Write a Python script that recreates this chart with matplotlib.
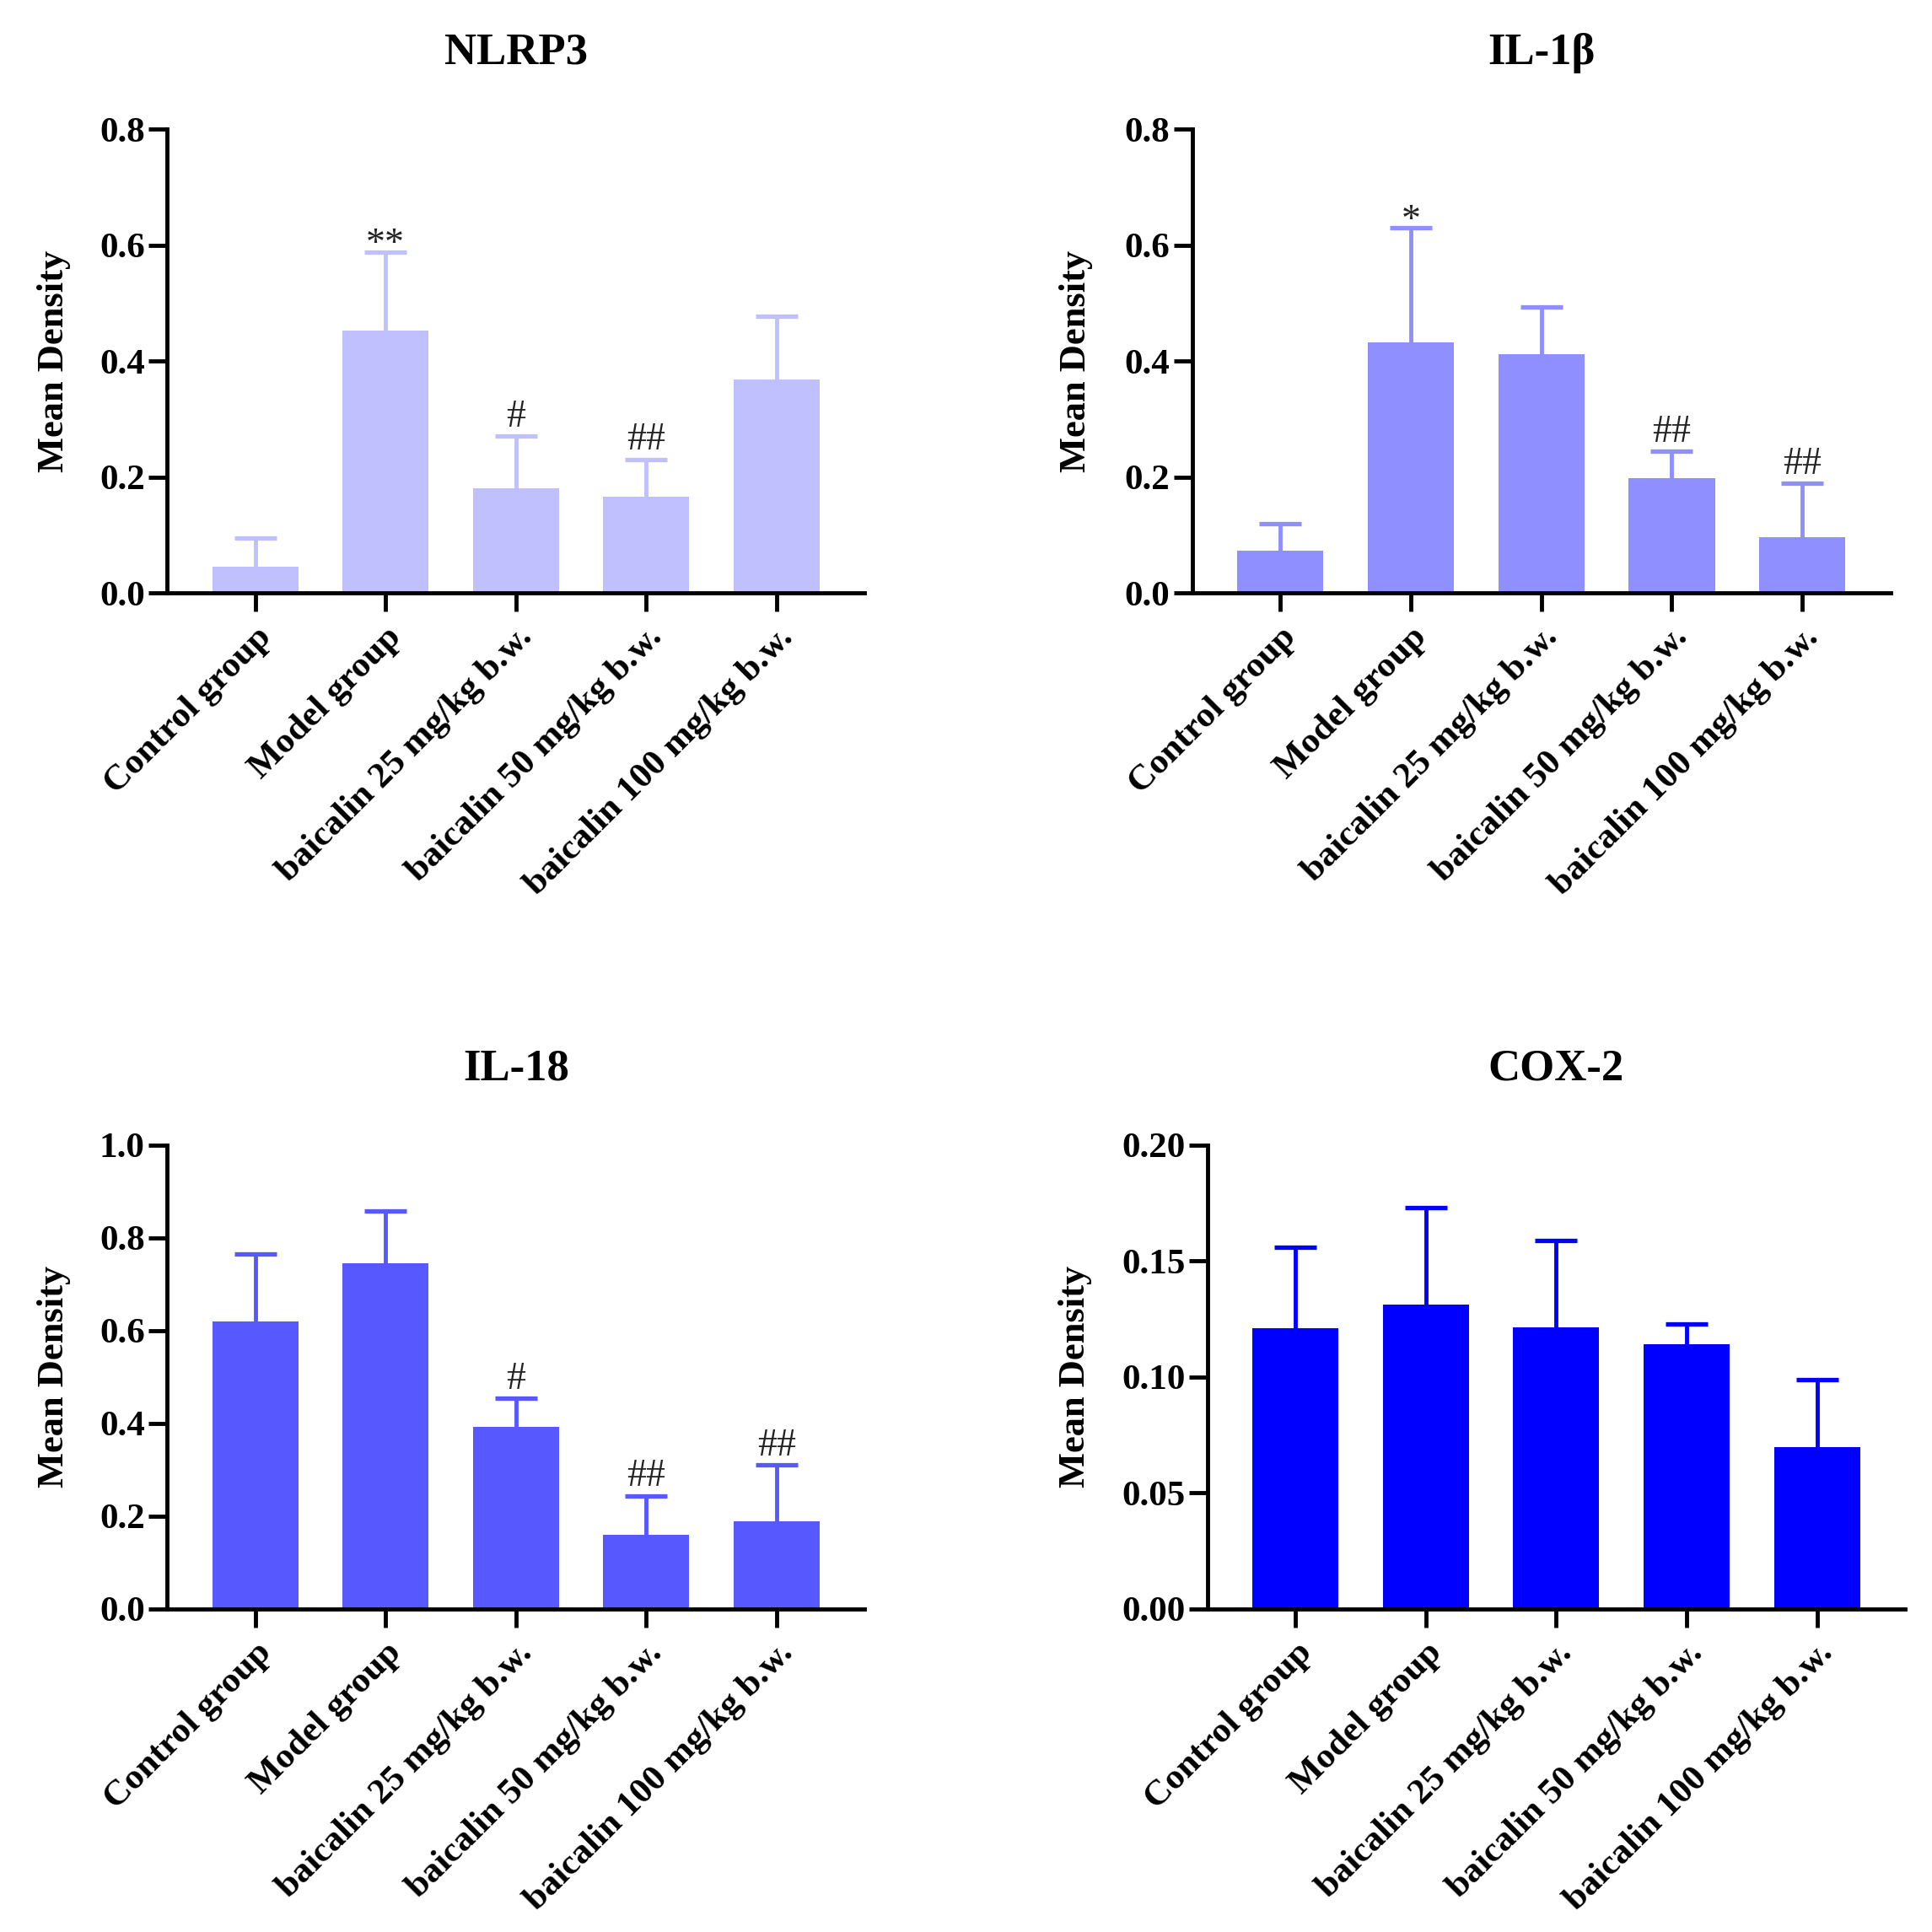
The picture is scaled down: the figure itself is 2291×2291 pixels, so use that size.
import numpy as np
import matplotlib
matplotlib.use("Agg")
import matplotlib.pyplot as plt
from matplotlib.ticker import MultipleLocator, FormatStrFormatter

plt.rcParams['font.family'] = ['Liberation Serif', 'DejaVu Serif']

# data
groups = ["Control group", "Model group", "baicalin 25 mg/kg b.w.",
          "baicalin 50 mg/kg b.w.", "baicalin 100 mg/kg b.w."]

nlrp3_mean = [0.046, 0.453, 0.181, 0.167, 0.368]
nlrp3_top = [0.095, 0.589, 0.271, 0.231, 0.478]
nlrp3_marks = ["", "**", "#", "##", ""]

il1b_mean = [0.073, 0.433, 0.412, 0.198, 0.096]
il1b_top = [0.120, 0.630, 0.493, 0.245, 0.189]
il1b_marks = ["", "*", "", "##", "##"]

il18_mean = [0.620, 0.745, 0.392, 0.159, 0.189]
il18_top = [0.766, 0.858, 0.454, 0.244, 0.310]
il18_marks = ["", "", "#", "##", "##"]

cox2_mean = [0.121, 0.1313, 0.1214, 0.1142, 0.0697]
cox2_top = [0.156, 0.173, 0.159, 0.1227, 0.099]
cox2_marks = ["", "", "", "", ""]

panels = [
    # title, mean, top, marks, color, ymax, step, fmt, axes rect, ylabel x
    ("NLRP3", nlrp3_mean, nlrp3_top, nlrp3_marks, "#C0C0FF", 0.8, 0.2, "%.1f",
     [0.0865, 0.693, 0.361, 0.240], -0.138),
    ("IL-1β", il1b_mean, il1b_top, il1b_marks, "#8F8FFF", 0.8, 0.2, "%.1f",
     [0.617, 0.693, 0.3615, 0.240], -0.142),
    ("IL-18", il18_mean, il18_top, il18_marks, "#5858FF", 1.0, 0.2, "%.1f",
     [0.0865, 0.1673, 0.361, 0.240], -0.138),
    ("COX-2", cox2_mean, cox2_top, cox2_marks, "#0000FF", 0.20, 0.05, "%.2f",
     [0.625, 0.1673, 0.361, 0.240], -0.165),
]

fig = plt.figure(figsize=(22.91, 22.91), dpi=100)

for title, mean, top, marks, color, ymax, step, fmt, rect, ylab_x in panels:
    ax = fig.add_axes(rect)
    x = np.arange(len(groups))
    mean = np.array(mean)
    err = np.array(top) - mean
    ax.bar(x, mean, width=0.66, color=color, zorder=2)
    # upper error only; hide the lower caps that sit on the bar tops
    _, caps, _ = ax.errorbar(x, mean, yerr=[np.zeros_like(err), err], fmt='none',
                             ecolor=color, elinewidth=3.5, capsize=18,
                             capthick=3.8, zorder=1)
    for c in caps:
        if np.allclose(c.get_ydata(), mean):
            c.set_visible(False)

    for xi, t, m in zip(x, top, marks):
        if m:
            dy = -2.5 if m.startswith('*') else 8
            ax.annotate(m, (xi, t), xytext=(0, dy), textcoords='offset points',
                        ha='center', va='baseline', fontsize=33, color='#222222')

    ax.set_xlim(-0.675, 4.675)
    ax.set_ylim(0, ymax)
    ax.yaxis.set_major_locator(MultipleLocator(step))
    ax.yaxis.set_major_formatter(FormatStrFormatter(fmt))

    for s in ['top', 'right']:
        ax.spines[s].set_visible(False)
    for s in ['left', 'bottom']:
        ax.spines[s].set_linewidth(3.5)

    ax.tick_params(axis='both', direction='out', length=16, width=3.5,
                   labelsize=31)
    ax.tick_params(axis='y', pad=3)
    ax.tick_params(axis='x', pad=8)
    ax.set_xticks(x)
    ax.set_xticklabels(groups, rotation=45, ha='right', va='top',
                       rotation_mode='anchor', fontweight='bold')
    for lab in ax.get_yticklabels():
        lab.set_fontweight('bold')

    ax.set_ylabel("Mean Density", fontsize=32, fontweight='bold')
    ax.yaxis.set_label_coords(ylab_x, 0.5)
    ax.set_title(title, fontsize=38, fontweight='bold', pad=56)

fig.savefig("out.png", dpi=100)
